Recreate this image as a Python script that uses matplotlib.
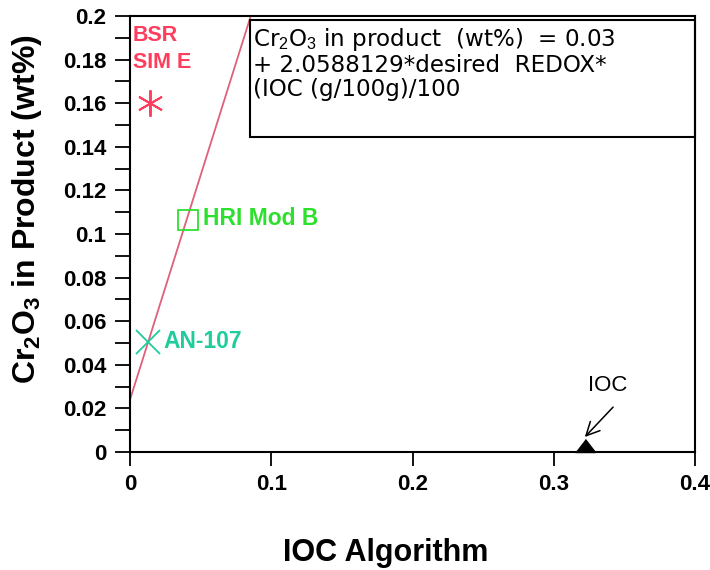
import matplotlib
matplotlib.use("Agg")
import matplotlib.pyplot as plt
from matplotlib.patches import Rectangle
from matplotlib.ticker import MultipleLocator, FixedLocator
import numpy as np

plt.rcParams['font.family'] = ['Liberation Sans', 'DejaVu Sans']
plt.rcParams['mathtext.fontset'] = 'custom'
plt.rcParams['mathtext.rm'] = 'Liberation Sans'
plt.rcParams['mathtext.bf'] = 'Liberation Sans:bold'

# Sample points (IOC algorithm value, Cr2O3 in product wt%)
sample_names = ["BSR\nSIM E", "HRI Mod B", "AN-107"]
sample_x = [0.0142, 0.041, 0.0127]
sample_y = [0.160, 0.1064, 0.0505]
sample_colors = ["#ff3d5c", "#2ee02e", "#1fcc9c"]
sample_markers = [(6, 2, 0), "s", "x"]

# Fitted relation line
line_intercept = 0.024
line_slope = 2.0588129
line_x = [0.0, 0.2]

# IOC marker on the x axis
ioc_x = 0.322
ioc_y = 0.0

fig = plt.figure(figsize=(7.1, 5.7), dpi=100)
ax = fig.add_axes([0.1831, 0.2070, 0.7958, 0.7649])

ax.set_xlim(0, 0.4)
ax.set_ylim(0, 0.2)

xs = np.array(line_x)
ax.plot(xs, line_intercept + line_slope * xs, color="#e0607a", lw=1.3, zorder=2)

for name, x, y, c, m in zip(sample_names, sample_x, sample_y, sample_colors, sample_markers):
    if m == "s":
        ax.plot(x, y, marker=m, ms=14.5, mfc="none", mec=c, mew=1.3, zorder=3)
    elif m == "x":
        ax.plot(x, y, marker=m, ms=17, color=c, mew=1.3, zorder=3)
    else:
        ax.plot(x, y, marker=m, ms=19, color=c, mew=1.4, zorder=3)

ax.text(0.002, 0.1849, sample_names[0], color=sample_colors[0], fontsize=15.5,
        fontweight="bold", va="center", ha="left", linespacing=1.35)
ax.text(0.0517, 0.1073, sample_names[1], color=sample_colors[1], fontsize=16.5,
        fontweight="bold", va="center", ha="left")
ax.text(0.024, 0.0509, sample_names[2], color=sample_colors[2], fontsize=16.5,
        fontweight="bold", va="center", ha="left")

tri = [(-0.77, 0), (0.77, 0), (0, 1)]
ax.plot(ioc_x, ioc_y, marker=tri, ms=18.7, color="black", clip_on=False, zorder=4)
ax.annotate("", xy=(ioc_x, 0.0069), xytext=(0.342, 0.0206),
            arrowprops=dict(arrowstyle="->", color="black", lw=1.1,
                            shrinkA=0, shrinkB=0, mutation_scale=24))
ax.text(0.3385, 0.0305, "IOC", fontsize=16, ha="center", va="center")

# Equation box
ax.add_patch(Rectangle((0.085, 0.1445), 0.315, 0.0535, fill=False,
                       ec="black", lw=1.5, zorder=5, clip_on=False))
ax.text(0.0871, 0.1784,
        "Cr$_2$O$_3$ in product  (wt%)  = 0.03\n+ 2.0588129*desired  REDOX*\n(IOC (g/100g)/100",
        fontsize=16.6, family="DejaVu Sans", va="center", ha="left",
        linespacing=1.06, zorder=6)

ax.xaxis.set_major_locator(FixedLocator([0, 0.1, 0.2, 0.3, 0.4]))
ax.set_xticklabels(["0", "0.1", "0.2", "0.3", "0.4"])
ax.yaxis.set_major_locator(FixedLocator(np.arange(0, 0.2001, 0.02)))
ax.set_yticklabels(["0", "0.02", "0.04", "0.06", "0.08", "0.1",
                    "0.12", "0.14", "0.16", "0.18", "0.2"])
ax.yaxis.set_minor_locator(MultipleLocator(0.01))
ax.tick_params(axis="both", direction="out", width=1.3, labelsize=16, color="black")
ax.tick_params(axis="x", length=10, pad=6)
ax.tick_params(axis="y", which="both", length=11, pad=6)
ax.tick_params(axis="y", which="minor", width=1.3)
for lab in ax.get_xticklabels() + ax.get_yticklabels():
    lab.set_fontweight("bold")

for sp in ax.spines.values():
    sp.set_linewidth(1.5)

ax.set_xlabel("IOC Algorithm", fontsize=22, fontweight="bold")
ax.set_ylabel(r"Cr$_\mathbf{2}$O$_\mathbf{3}$ in Product (wt%)", fontsize=23,
              fontweight="bold")
ax.xaxis.set_label_coords(0.453, -0.197)
ax.yaxis.set_label_coords(-0.153, 0.557)

fig.savefig("out.png", dpi=100)
